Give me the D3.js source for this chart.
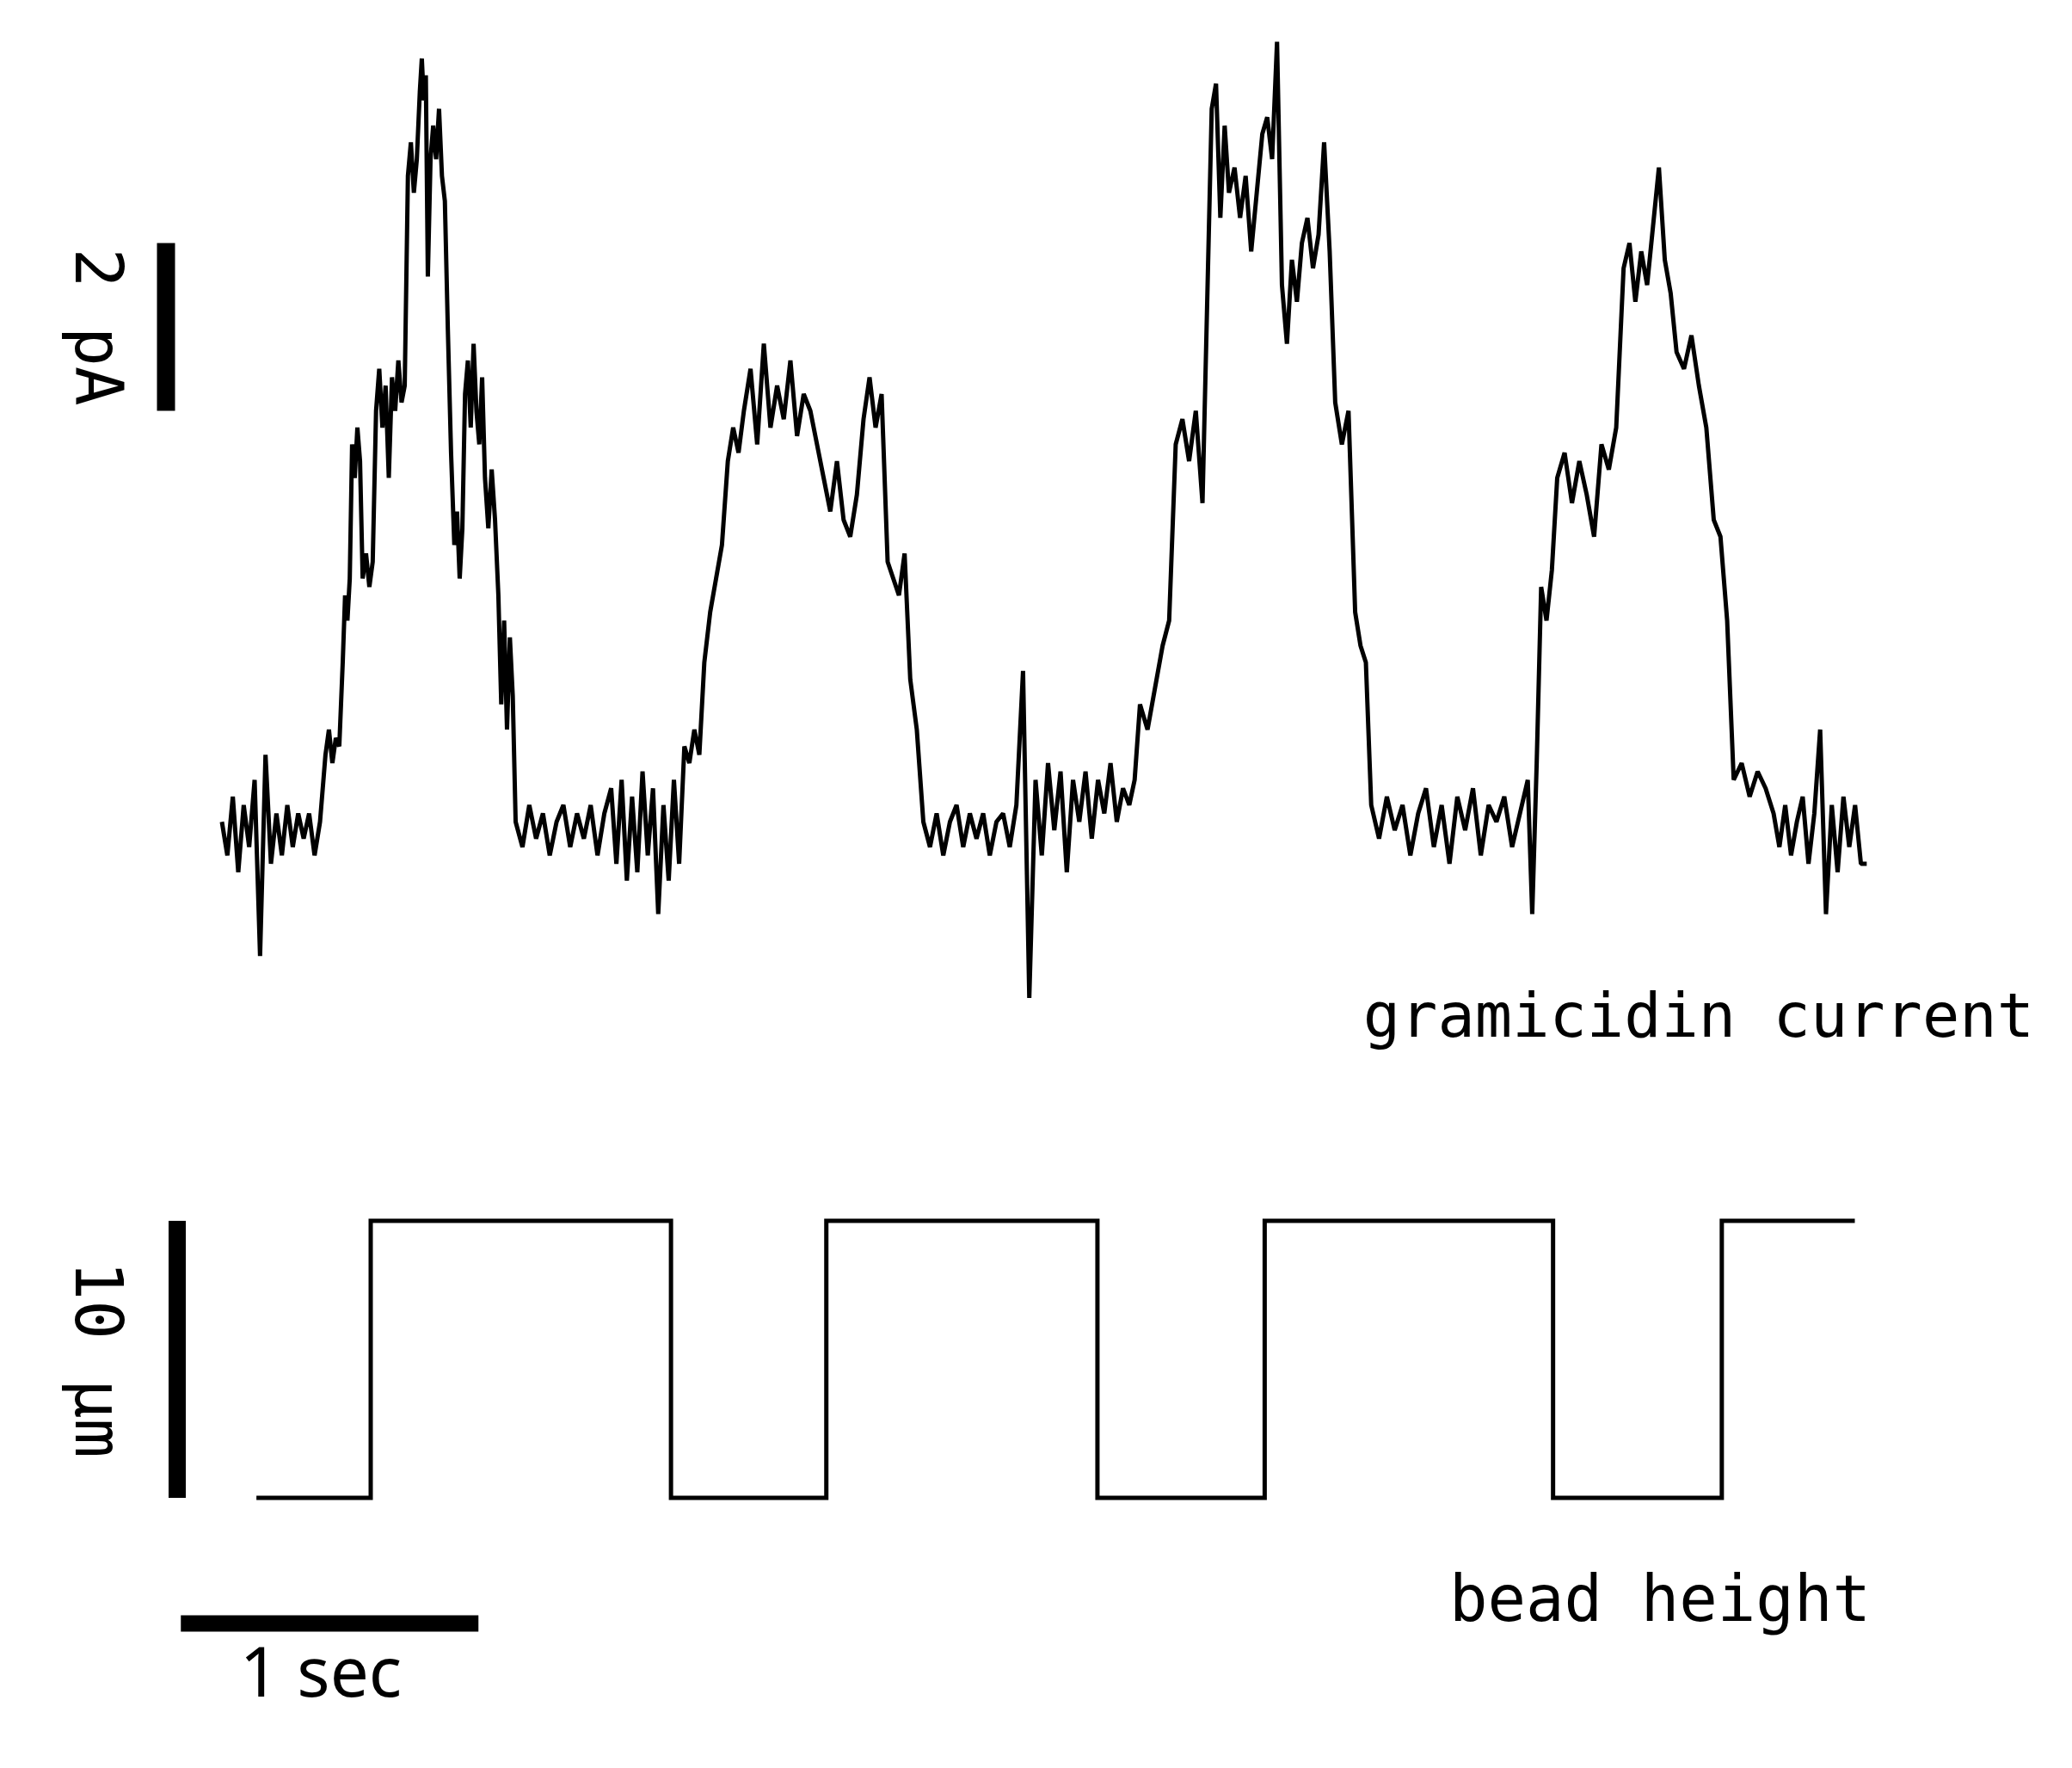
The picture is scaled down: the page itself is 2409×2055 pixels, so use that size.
<!DOCTYPE html>
<html>
<head>
<meta charset="utf-8">
<script src="https://d3js.org/d3.v7.min.js"></script>
<style>
  body { margin: 0; background: #fff; }
  text { fill: #000; }
</style>
</head>
<body>
<svg id="chart" width="2409" height="2055"></svg>
<script>
// gramicidin current trace: [t start (s), t end (s), values (pA) sampled evenly in between]
var currentSegments = [
    [0.000, 0.348, [0.1, -0.3, 0.4, -0.5, 0.3, -0.2, 0.6, -1.5, 0.9, -0.4, 0.2, -0.3, 0.3, -0.2, 0.2, -0.1, 0.2, -0.3, 0.1]],
    [0.348, 0.406, [0.9, 1.2, 0.8, 1.1, 1.0]],
    [0.406, 0.4375, [2.0, 2.8, 2.5, 3.0]],
    [0.4375, 0.473, [4.6, 4.2, 4.8, 4.4]],
    [0.473, 0.518, [3.0, 3.3, 2.9, 3.2]],
    [0.518, 0.625, [5.0, 5.5, 4.8, 5.3, 4.2, 5.4, 5.0, 5.6, 5.1, 5.3]],
    [0.625, 0.665, [7.8, 8.2, 7.6, 8.0]],
    [0.665, 0.692, [8.8, 9.2, 8.7, 9.0]],
    [0.692, 0.710, [6.6, 8.0]],
    [0.710, 0.759, [8.4, 8.0, 8.6, 7.8, 7.5]],
    [0.759, 0.781, [6.0, 4.5]],
    [0.781, 0.817, [3.4, 3.8, 3.0, 3.6]],
    [0.817, 0.884, [5.2, 5.6, 4.8, 5.8, 5.0, 4.6, 5.4]],
    [0.884, 0.929, [4.2, 3.6, 4.3, 3.7]],
    [0.929, 0.987, [2.8, 1.5, 2.5, 1.2, 2.3, 1.6]],
    [0.987, 1.308, [0.1, -0.2, 0.3, -0.1, 0.2, -0.3, 0.1, 0.3, -0.2, 0.2, -0.1, 0.3, -0.3, 0.2]],
    [1.308, 1.554, [0.5, -0.4, 0.6, -0.6, 0.4, -0.5, 0.7, -0.3, 0.5, -1.0, 0.3, -0.6, 0.6, -0.4]],
    [1.554, 1.621, [1.0, 0.8, 1.2, 0.9]],
    [1.621, 1.700, [2.0, 2.6, 3.0, 3.4]],
    [1.700, 1.754, [4.4, 4.8, 4.5]],
    [1.754, 2.022, [5.0, 5.5, 4.6, 5.8, 4.8, 5.3, 4.9, 5.6, 4.7, 5.2, 5.0, 4.6]],
    [2.022, 2.156, [4.2, 3.8, 4.4, 3.7, 3.5, 4.0]],
    [2.156, 2.237, [4.9, 5.4, 4.8, 5.2]],
    [2.237, 2.313, [3.2, 3.0, 2.8, 3.3]],
    [2.313, 2.357, [1.8, 1.2]],
    [2.357, 2.692, [0.1, -0.2, 0.2, -0.3, 0.1, 0.3, -0.2, 0.2, -0.1, 0.2, -0.3, 0.1, 0.2, -0.2, 0.3]],
    [2.692, 3.049, [1.9, -2.0, 0.6, -0.3, 0.8, 0.0, 0.7, -0.5, 0.6, 0.1, 0.7, -0.1, 0.6, 0.2, 0.8, 0.1, 0.5]],
    [3.049, 3.085, [0.3, 0.6]],
    [3.085, 3.161, [1.5, 1.2, 1.7]],
    [3.161, 3.205, [2.2, 2.5]],
    [3.205, 3.295, [4.6, 4.9, 4.4, 5.0]],
    [3.295, 3.326, [3.9]],
    [3.326, 3.384, [8.6, 8.9, 7.3, 8.4]],
    [3.384, 3.496, [7.6, 7.9, 7.3, 7.8, 6.9, 7.6]],
    [3.496, 3.562, [8.3, 8.5, 8.0, 9.4]],
    [3.562, 3.629, [6.5, 5.8, 6.8, 6.3]],
    [3.629, 3.741, [7.0, 7.3, 6.7, 7.1, 8.2, 6.9]],
    [3.741, 3.808, [5.1, 4.6, 5.0]],
    [3.808, 3.862, [2.6, 2.2, 2.0]],
    [3.862, 4.388, [0.3, -0.1, 0.4, 0.0, 0.3, -0.3, 0.2, 0.5, -0.2, 0.3, -0.4, 0.4, 0.0, 0.5, -0.3, 0.3, 0.1, 0.4, -0.2, 0.2]],
    [4.388, 4.433, [0.6, -1.0, 0.8]],
    [4.433, 4.487, [2.9, 2.5, 3.1]],
    [4.487, 4.710, [4.2, 4.5, 3.9, 4.4, 4.0, 3.5, 4.6, 4.3, 4.8]],
    [4.710, 4.888, [6.7, 7.0, 6.3, 6.9, 6.5, 7.2, 7.9, 6.8, 6.4]],
    [4.888, 5.013, [5.7, 5.5, 5.9, 5.3, 4.8]],
    [5.013, 5.058, [3.7, 3.5]],
    [5.058, 5.080, [2.5]],
    [5.080, 5.214, [0.6, 0.8, 0.4, 0.7, 0.5]],
    [5.214, 5.527, [0.2, -0.2, 0.3, -0.3, 0.1, 0.4, -0.4, 0.2, 1.2, -1.0, 0.3, -0.5, 0.4, -0.2, 0.3, -0.4]]
];

// bead height square wave: [time (s), height (um)]
var beadTimes = [0.116, 0.500, 0.500, 1.509, 1.509, 2.031, 2.031, 2.942, 2.942, 3.504, 3.504, 4.473, 4.473, 5.040, 5.040, 5.487];
var beadHeights = [0, 0, 10, 10, 0, 0, 10, 10, 0, 0, 10, 10, 0, 0, 10, 10];

var svg = d3.select("#chart");

var x = d3.scaleLinear().domain([0, 1]).range([258, 604]);
var yI = d3.scaleLinear().domain([0, 2]).range([965, 770]);
var yH = d3.scaleLinear().domain([0, 10]).range([1741, 1419]);

// flatten segments into points
var currentPoints = [];
currentSegments.forEach(function (s) {
    var n = s[2].length;
    s[2].forEach(function (v, i) {
        currentPoints.push([s[0] + (s[1] - s[0]) * i / n, v]);
    });
});
var last = currentSegments[currentSegments.length - 1];
currentPoints.push([last[1], last[2][last[2].length - 1]]);

var line = d3.line()
    .x(function (d) { return x(d[0]); })
    .y(function (d) { return yI(d[1]); });

svg.append("path")
    .datum(currentPoints)
    .attr("d", line)
    .attr("fill", "none")
    .attr("stroke", "#000")
    .attr("stroke-width", 5)
    .attr("stroke-linejoin", "bevel");

var beadLine = d3.line()
    .x(function (d) { return x(d); })
    .y(function (d, i) { return yH(beadHeights[i]); });

svg.append("path")
    .datum(beadTimes)
    .attr("d", beadLine)
    .attr("fill", "none")
    .attr("stroke", "#000")
    .attr("stroke-width", 5);

// scale bars
svg.append("line").attr("x1", 193).attr("x2", 193)
    .attr("y1", yI(7)).attr("y2", yI(5))
    .attr("stroke", "#000").attr("stroke-width", 21);
svg.append("line").attr("x1", 206).attr("x2", 206)
    .attr("y1", yH(10)).attr("y2", yH(0))
    .attr("stroke", "#000").attr("stroke-width", 20);
svg.append("line").attr("x1", x(-0.138)).attr("x2", x(0.862))
    .attr("y1", 1887).attr("y2", 1887)
    .attr("stroke", "#000").attr("stroke-width", 19);

// labels
svg.append("text")
    .attr("transform", "translate(88," + ((yI(7) + yI(5)) / 2) + ") rotate(90)")
    .attr("text-anchor", "middle")
    .style("font-family", "DejaVu Sans Mono")
    .style("font-size", "76px")
    .text("2 pA");
svg.append("text")
    .attr("transform", "translate(88," + ((yH(10) + yH(0)) / 2) + ") rotate(90)")
    .attr("text-anchor", "middle")
    .style("font-family", "DejaVu Sans Mono")
    .style("font-size", "76px")
    .text("10 μm");
svg.append("text")
    .attr("x", 2365).attr("y", 1205)
    .attr("text-anchor", "end")
    .style("font-family", "DejaVu Sans Mono")
    .style("font-size", "72px")
    .text("gramicidin current");
svg.append("text")
    .attr("x", 2175).attr("y", 1884)
    .attr("text-anchor", "end")
    .style("font-family", "DejaVu Sans Mono")
    .style("font-size", "74px")
    .text("bead height");
svg.append("text")
    .attr("x", 373).attr("y", 1972)
    .attr("text-anchor", "middle")
    .style("font-family", "Noto Sans")
    .style("font-size", "80px")
    .text("1 sec");
</script>
</body>
</html>
